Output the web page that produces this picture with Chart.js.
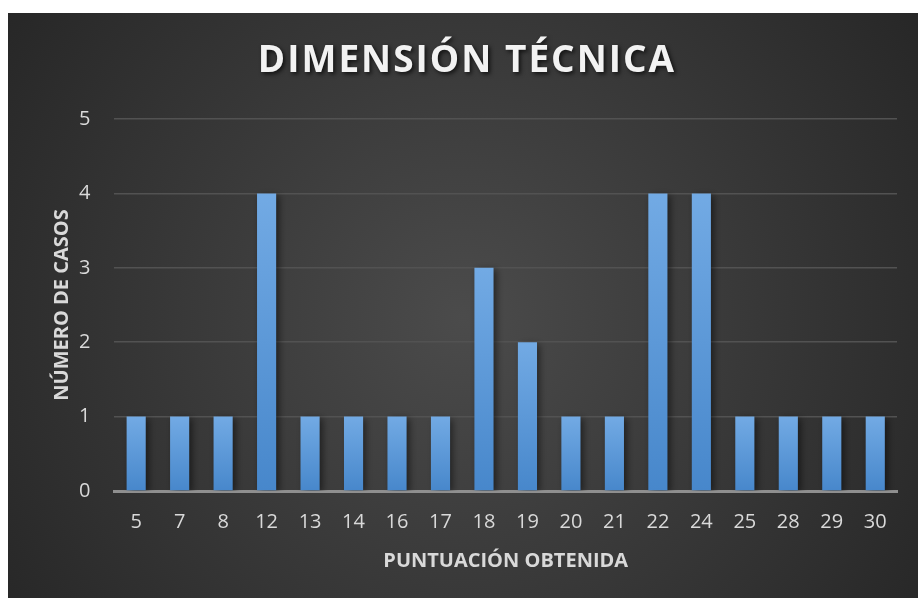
<!DOCTYPE html>
<html>
<head>
    <meta charset="utf-8">
    <title>Dimensión técnica</title>
    <script src="https://cdn.jsdelivr.net/npm/chart.js"></script>
    <style>
        body { margin: 0; background: #ffffff; }
        #wrap { position: absolute; left: 8px; top: 13px; width: 910px; height: 585px; }
    </style>
</head>
<body>
    <div id="wrap">
        <canvas id="myChart"></canvas>
    </div>
    <script>
        // puntuaciones y número de casos
        const puntuaciones = ['5', '7', '8', '12', '13', '14', '16', '17', '18', '19', '20', '21', '22', '24', '25', '28', '29', '30'];
        const casos = [1, 1, 1, 4, 1, 1, 1, 1, 3, 2, 1, 1, 4, 4, 1, 1, 1, 1];
        const yTicks = [0, 1, 2, 3, 4, 5];

        const tituloTexto = 'DIMENSIÓN TÉCNICA';
        const ejeX = 'PUNTUACIÓN OBTENIDA';
        const ejeY = 'NÚMERO DE CASOS';

        const fondo = {
            id: 'fondo',
            beforeDraw(chart) {
                const c = chart.ctx, w = chart.width, h = chart.height;
                const g = c.createRadialGradient(w * 0.5, h * 0.52, 0, w * 0.5, h * 0.52, w * 0.62);
                g.addColorStop(0, '#4b4b4b');
                g.addColorStop(1, '#262626');
                c.save();
                c.fillStyle = g;
                c.fillRect(0, 0, w, h);
                c.restore();
            }
        };

        const titulo = {
            id: 'titulo',
            afterDraw(chart) {
                const c = chart.ctx;
                c.save();
                c.font = 'bold 37px "Open Sans"';
                c.letterSpacing = '2px';
                c.textAlign = 'center';
                c.textBaseline = 'middle';
                c.shadowColor = 'rgba(0,0,0,0.7)';
                c.shadowBlur = 4;
                c.shadowOffsetX = 2;
                c.shadowOffsetY = 2;
                c.fillStyle = '#f2f2f2';
                c.fillText(tituloTexto, chart.width / 2 + 4, 48);
                c.restore();
            }
        };

        const sombra = {
            id: 'sombra',
            beforeDatasetsDraw(chart) {
                const c = chart.ctx;
                c.save();
                c.shadowColor = 'rgba(0,0,0,0.5)';
                c.shadowBlur = 7;
                c.shadowOffsetX = 3;
                c.shadowOffsetY = 2;
            },
            afterDatasetsDraw(chart) {
                chart.ctx.restore();
            }
        };

        var ctx = document.getElementById('myChart').getContext('2d');
        var myChart = new Chart(ctx, {
            type: 'bar',
            data: {
                labels: puntuaciones,
                datasets: [{
                    label: 'Casos',
                    data: casos,
                    backgroundColor: function (context) {
                        const chart = context.chart;
                        const area = chart.chartArea;
                        if (!area) return '#5b9bd5';
                        const y = chart.scales.y;
                        const top = y.getPixelForValue(context.raw);
                        const base = y.getPixelForValue(0);
                        const g = chart.ctx.createLinearGradient(0, top, 0, base);
                        g.addColorStop(0, '#72aae4');
                        g.addColorStop(1, '#4787cb');
                        return g;
                    },
                    borderWidth: 0,
                    barPercentage: 0.44,
                    categoryPercentage: 1
                }]
            },
            options: {
                responsive: true,
                maintainAspectRatio: false,
                animation: false,
                layout: { padding: { top: 106, right: 21, bottom: 25, left: 42 } },
                plugins: {
                    legend: { display: false },
                    tooltip: { enabled: false }
                },
                scales: {
                    x: {
                        grid: { display: false },
                        border: { color: '#8f8f8f', width: 3 },
                        ticks: { color: '#d9d9d9', font: { family: 'Open Sans', size: 20 }, padding: 11 },
                        title: {
                            display: true, text: ejeX, color: '#d9d9d9',
                            font: { family: 'Open Sans', size: 20, weight: 'bold' },
                            padding: { top: 4, bottom: 0 }
                        }
                    },
                    y: {
                        min: 0, max: 5,
                        afterBuildTicks(axis) { axis.ticks = yTicks.map(v => ({ value: v })); },
                        grid: {
                            color: ctx => ctx.index === 0 ? 'rgba(0,0,0,0)' : '#525252',
                            lineWidth: 1.5,
                            drawTicks: false
                        },
                        border: { display: false },
                        ticks: { color: '#d9d9d9', font: { family: 'Open Sans', size: 20 }, padding: 24 },
                        title: {
                            display: true, text: ejeY, color: '#d9d9d9',
                            font: { family: 'Open Sans', size: 20, weight: 'bold' },
                            padding: { top: 0, bottom: -19 }
                        }
                    }
                }
            },
            plugins: [fondo, sombra, titulo]
        });
    </script>
</body>
</html>
